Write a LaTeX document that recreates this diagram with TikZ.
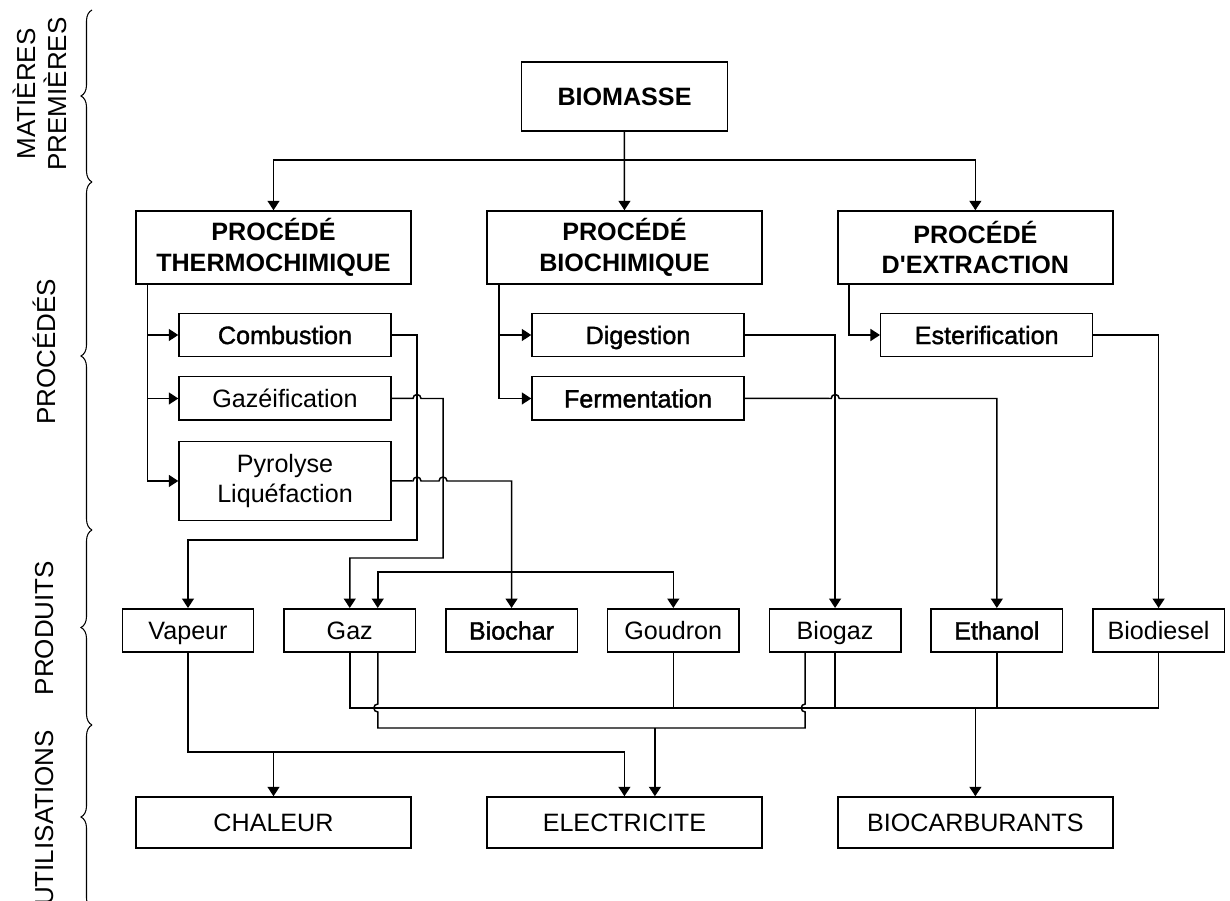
\documentclass[tikz,border=0pt]{standalone}
\usepackage{fontspec}
\setmainfont{Liberation Sans}
\newfontfamily\heavyfont{Liberation Sans}[FakeBold=1.5]
\usetikzlibrary{arrows.meta, positioning, decorations.pathreplacing}
\tikzset{
  arr/.style={-{Triangle[length=0.19cm, width=0.24cm]}}, % filled arrow heads
  side/.style={rotate=90, anchor=base, inner sep=0pt,
    font=\fontsize{14.8}{17}\selectfont}, % level names on the left
  lvl/.style={decorate, line width=0.6pt,
    decoration={brace, amplitude=0.22cm}}, % braces of the levels
}

\begin{document}
\begin{tikzpicture}[x=0.02cm, y=-0.02cm, line width=0.85pt,
    main/.style = {draw, rectangle, inner sep=0pt, align=center,
      font=\fontsize{14.3}{17}\selectfont},
    oneline/.style = {text height=10.3pt, text depth=0pt},
    procbox/.style = {main, minimum width=5.5cm, minimum height=1.46cm,
      font=\bfseries\fontsize{14.3}{17.6}\selectfont},
    subbox/.style = {main, minimum width=4.24cm, minimum height=0.87cm},
    prodbox/.style = {main, oneline, minimum width=2.63cm, minimum height=0.87cm},
    usebox/.style = {main, oneline, minimum width=5.5cm, minimum height=1.02cm},
    heavy/.style = {font=\heavyfont\fontsize{14.3}{17}\selectfont}]
    \useasboundingbox (0,0) rectangle (1230,901);

    % levels
    \node[side] at (35,94) {MATIÈRES};
    \node[side] at (66,94) {PREMIÈRES};
    \node[side] at (55,352) {PROCÉDÉS};
    \node[side] at (53,628) {PRODUITS};
    \node[side] at (53,818) {UTILISATIONS};
    \draw[lvl] (92,182) -- (92,10);
    \draw[lvl] (92,530) -- (92,182);
    \draw[lvl] (92,725) -- (92,530);
    \draw[lvl] (92,909) -- (92,725);

    % boxes
    \node[main, oneline, minimum width=4.12cm, minimum height=1.38cm,
      font=\bfseries\fontsize{14.3}{17}\selectfont] (biomasse) at (624.5,96.5) {BIOMASSE};
    \node[procbox] (thermo) at (273.5,247.5) {PROCÉDÉ\\THERMOCHIMIQUE};
    \node[procbox, right of=thermo, node distance=7.02cm] (biochim) {PROCÉDÉ\\BIOCHIMIQUE};
    \node[procbox, right of=biochim, node distance=7.02cm] (extract) {PROCÉDÉ\\D\textquotesingle EXTRACTION};

    \node[subbox, oneline, heavy] (comb) at (285,335) {Combustion};
    \node[subbox, oneline, below of=comb, node distance=1.27cm] (gazei) {Gazéification};
    \node[subbox, minimum height=1.58cm, below of=gazei, node distance=1.65cm] (pyro) {Pyrolyse\\Liquéfaction};
    \node[subbox, oneline, heavy] (dig) at (638,335) {Digestion};
    \node[subbox, oneline, heavy, below of=dig, node distance=1.27cm] (ferm) {Fermentation};
    \node[subbox, oneline, heavy] (ester) at (986.7,335) {Esterification};

    \node[prodbox] (vapeur) at (188,630.5) {Vapeur};
    \node[prodbox, right of=vapeur, node distance=3.236cm] (gaz) {Gaz};
    \node[prodbox, heavy, right of=gaz, node distance=3.236cm] (biochar) {Biochar};
    \node[prodbox, right of=biochar, node distance=3.236cm] (goudron) {Goudron};
    \node[prodbox, right of=goudron, node distance=3.236cm] (biogaz) {Biogaz};
    \node[prodbox, heavy, right of=biogaz, node distance=3.236cm] (ethanol) {Ethanol};
    \node[prodbox, right of=ethanol, node distance=3.236cm] (biodiesel) {Biodiesel};

    \node[usebox] (chaleur) at (273.5,822.5) {CHALEUR};
    \node[usebox, right of=chaleur, node distance=7.02cm] (elec) {ELECTRICITE};
    \node[usebox, right of=elec, node distance=7.02cm] (biocarb) {BIOCARBURANTS};

    \coordinate (toprail) at (0,160);
    \coordinate (midrail) at (0,572);
    \coordinate (busA) at (0,708);
    \coordinate (busB) at (0,728);
    \coordinate (busC) at (0,752);

    % biomasse to the processes
    \draw[arr] (biomasse) -- (biochim);
    \draw[arr] (biomasse.south |- toprail) -| (thermo.north);
    \draw[arr] (biomasse.south |- toprail) -| (extract.north);

    \draw[arr] ([xshift=0.24cm]thermo.south west) |- (pyro.west);
    \draw[arr] ([xshift=0.24cm]thermo.south west |- comb.west) -- (comb.west);
    \draw[arr] ([xshift=0.24cm]thermo.south west |- gazei.west) -- (gazei.west);
    \draw[arr] ([xshift=0.26cm]biochim.south west) |- (ferm.west);
    \draw[arr] ([xshift=0.26cm]biochim.south west |- dig.west) -- (dig.west);
    \draw[arr] ([xshift=0.24cm]extract.south west) |- (ester.west);

    % processes to the products
    \draw[arr] (comb.east) -| (417,540) -| (vapeur.north);
    \draw[arr] (gazei.east) -- (413,398.5) arc[start angle=180, end angle=0, radius=0.08cm]
      -- (443,398.5) -- (443,558) -| (gaz.north);
    \draw[arr] (pyro.east) -- (413,481) arc[start angle=180, end angle=0, radius=0.08cm]
      -- (439,481) arc[start angle=180, end angle=0, radius=0.08cm] -| (biochar.north);
    \draw[arr] (biochar.north |- midrail) -| ([xshift=0.56cm]gaz.north);
    \draw[arr] (biochar.north |- midrail) -| (goudron.north);
    \draw[arr] (dig.east) -| (biogaz.north);
    \draw[arr] (ferm.east) -- (831.2,398.5) arc[start angle=180, end angle=0, radius=0.08cm]
      -| (ethanol.north);
    \draw[arr] (ester.east) -| (biodiesel.north);

    % products to the uses
    \draw (gaz.south) |- (biodiesel.south |- busA) -- (biodiesel.south);
    \draw (goudron.south) -- (goudron.south |- busA);
    \draw (biogaz.south) -- (biogaz.south |- busA);
    \draw (ethanol.south) -- (ethanol.south |- busA);
    \draw[arr] (biocarb.north |- busA) -- (biocarb.north);
    \draw ([xshift=0.56cm]gaz.south) -- (377.8,704) arc[start angle=90, end angle=270, radius=0.08cm]
      -- (377.8,728) -- (805.2,728) -- (805.2,712) arc[start angle=270, end angle=90, radius=0.08cm]
      -- ([xshift=-0.6cm]biogaz.south);
    \draw[arr] ([xshift=0.61cm]elec.north |- busB) -- ([xshift=0.61cm]elec.north);
    \draw[arr] (vapeur.south) |- (elec.north |- busC) -- (elec.north);
    \draw[arr] (chaleur.north |- busC) -- (chaleur.north);

\end{tikzpicture}
\end{document}
